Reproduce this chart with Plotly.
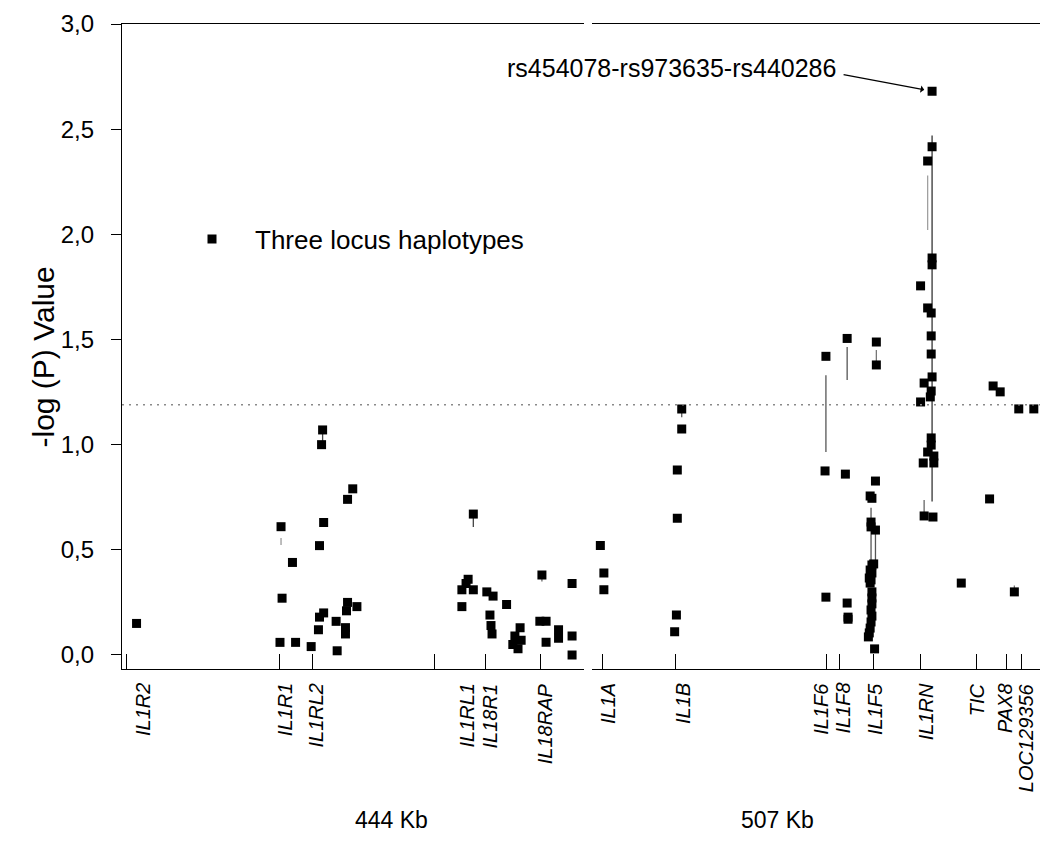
import plotly.graph_objects as go

# ---- Gene map: positions in kb within each of the two genomic segments ----
left_genes_kb = [4.8, 152, 183.1, 301.1, 349.9, 403.1]
right_genes_kb = [12.7, 94.4, 265.1, 280.6, 319.3, 372.1, 435.4, 468.6, 486.6]

left_label_names = ["IL1R2", "IL1R1", "IL1RL2", "IL1RL1", "IL18R1", "IL18RAP"]
left_label_kb = [19.7, 156.5, 185.7, 331, 354, 406.7]
right_label_names = ["IL1A", "IL1B", "IL1F6", "IL1F8", "IL1F5", "IL1RN", "TIC", "PAX8", "LOC129356"]
right_label_kb = [18.1, 102.9, 259.2, 283.2, 320.5, 377.8, 435.4, 467.5, 490.8]

segment_names = ["444 Kb", "507 Kb"]
segment_lengths = [444, 507]

# ---- Three locus haplotypes: -log(P) values ----
left_kb = [14, 152, 153, 154, 164, 167, 182, 189, 190, 190, 192, 193, 194, 194,
           206, 207, 215, 215, 216, 217, 217, 222, 226,
           338, 327, 331, 333, 338, 327, 351, 357, 354, 355, 356, 370, 383, 378,
           384, 376, 381, 404, 402, 408, 408, 420, 420, 433, 433, 433]
left_logp = [0.15, 0.06, 0.61, 0.27, 0.44, 0.06, 0.04, 0.12, 0.18, 0.52, 1.00, 1.07, 0.63, 0.20,
             0.16, 0.02, 0.13, 0.10, 0.21, 0.25, 0.74, 0.79, 0.23,
             0.67, 0.31, 0.34, 0.36, 0.31, 0.23, 0.30, 0.28, 0.19, 0.14, 0.10, 0.24, 0.13, 0.09,
             0.07, 0.05, 0.03, 0.38, 0.16, 0.16, 0.06, 0.12, 0.08, 0.34, 0.09, 0.00]

right_kb = [10, 14, 14,
            102, 102, 97, 97, 96, 94,
            265, 264, 265,
            289, 287, 289, 290, 290,
            322, 322, 321, 315, 317, 316, 316, 321, 319, 317, 315, 317, 314, 316, 315,
            317, 317, 317, 316, 317, 316, 315, 314, 313, 320,
            385, 385, 380, 385, 385, 372, 380, 384, 384, 384, 385, 376, 384, 383, 372,
            384, 384, 380, 387, 375, 387, 376, 386,
            418, 450, 454, 462, 478, 483, 500]
right_logp = [0.52, 0.39, 0.31,
              1.17, 1.075, 0.88, 0.65, 0.19, 0.11,
              1.42, 0.875, 0.275,
              1.505, 0.86, 0.247, 0.18, 0.17,
              1.488, 1.379, 0.827, 0.756, 0.745, 0.632, 0.609, 0.594, 0.433, 0.428, 0.404, 0.39, 0.366, 0.357, 0.342,
              0.30, 0.271, 0.243, 0.214, 0.185, 0.157, 0.128, 0.105, 0.086, 0.029,
              2.68, 2.416, 2.349, 1.888, 1.855, 1.755, 1.65, 1.626, 1.517, 1.431, 1.322, 1.293, 1.255, 1.227, 1.203,
              1.032, 0.998, 0.965, 0.946, 0.913, 0.913, 0.661, 0.656,
              0.342, 0.742, 1.279, 1.251, 0.30, 1.17, 1.17]

# ---- Vertical range segments (kb, low, high, colour) ----
left_seg_kb = [153, 193, 338, 404]
left_seg_lo = [0.523, 0.998, 0.609, 0.35]
left_seg_hi = [0.556, 1.075, 0.651, 0.376]
left_seg_col = ["#9a9a9a", "#444444", "#444444", "#666666"]

right_seg_kb = [102, 265, 289, 322, 316, 321, 316, 385, 380, 376, 478]
right_seg_lo = [1.13, 0.965, 1.308, 1.39, 0.433, 0.433, 0.632, 0.73, 2.02, 0.666, 0.30]
right_seg_hi = [1.17, 1.33, 1.464, 1.45, 0.594, 0.594, 0.70, 2.47, 2.28, 0.737, 0.33]
right_seg_col = ["#555555", "#555555", "#555555", "#777777", "#555555", "#555555", "#555555",
                 "#333333", "#a0a0a0", "#666666", "#777777"]

threshold = 1.19
peak_label = "rs454078-rs973635-rs440286"
peak_kb, peak_logp = 385, 2.68

FONT = "Liberation Sans, Arial, sans-serif"
W, H = 1043, 860
L, R, T, B = 122, 3, 24, 191
plot_w = W - L - R
plot_h = H - T - B
left_dom = [0, (583.5 - L) / plot_w]
right_dom = [(591.5 - L) / plot_w, 1]

fig = go.Figure()


def add_segments(xs, los, his, cols, xaxis):
    for x, lo, hi, c in zip(xs, los, his, cols):
        fig.add_trace(go.Scatter(x=[x, x], y=[lo, hi], mode="lines", xaxis=xaxis, yaxis="y",
                                 line=dict(color=c, width=1.3), showlegend=False, hoverinfo="skip"))


add_segments(left_seg_kb, left_seg_lo, left_seg_hi, left_seg_col, "x")
add_segments(right_seg_kb, right_seg_lo, right_seg_hi, right_seg_col, "x2")

marker = dict(symbol="square", size=9, color="black")
fig.add_trace(go.Scatter(x=left_kb, y=left_logp, mode="markers", marker=marker,
                         xaxis="x", yaxis="y", name="Three locus haplotypes", showlegend=True))
fig.add_trace(go.Scatter(x=right_kb, y=right_logp, mode="markers", marker=marker,
                         xaxis="x2", yaxis="y", showlegend=False))

# significance threshold across both segments
fig.add_shape(type="line", xref="paper", yref="y", x0=0, x1=1, y0=threshold, y1=threshold,
              line=dict(color="#8a8a8a", width=1.4, dash="2px,5px"))

xcommon = dict(showgrid=False, zeroline=False, showline=True, mirror=True, linecolor="black",
               linewidth=1.2, ticks="inside", ticklen=15, tickwidth=1.3, tickcolor="black",
               showticklabels=False)
fig.update_layout(
    width=W, height=H, margin=dict(l=L, r=R, t=T, b=B),
    paper_bgcolor="white", plot_bgcolor="white",
    font=dict(family=FONT, color="black"),
    separators=", ",
    xaxis=dict(domain=left_dom, range=[0, segment_lengths[0]], tickvals=left_genes_kb, anchor="y", **xcommon),
    xaxis2=dict(domain=right_dom, range=[0, segment_lengths[1]], tickvals=right_genes_kb, anchor="y", **xcommon),
    yaxis=dict(range=[-0.0666, 3.0], tickvals=[0, 0.5, 1.0, 1.5, 2.0, 2.5, 3.0], tickformat=".1f",
               showgrid=False, zeroline=False, showline=True, linecolor="black", linewidth=1.2,
               ticks="outside", ticklen=10, tickwidth=1.2, tickcolor="black",
               tickfont=dict(size=24, family=FONT), ticklabelstandoff=12),
    legend=dict(x=(169 - L) / plot_w, y=(669 - 239) / plot_h, xanchor="left", yanchor="middle",
                itemwidth=76, font=dict(size=26, family=FONT), bgcolor="rgba(0,0,0,0)"),
    showlegend=True,
)

ann = []
lab_y = (669 - 681) / plot_h
for name, kb in zip(left_label_names, left_label_kb):
    ann.append(dict(x=kb, xref="x", y=lab_y, yref="paper", text=f"<i>{name}</i>", textangle=-90,
                    showarrow=False, xanchor="center", yanchor="top", font=dict(size=20, family=FONT)))
for name, kb in zip(right_label_names, right_label_kb):
    ann.append(dict(x=kb, xref="x2", y=lab_y, yref="paper", text=f"<i>{name}</i>", textangle=-90,
                    showarrow=False, xanchor="center", yanchor="top", font=dict(size=20, family=FONT)))

seg_y = (669 - 835) / plot_h
ann.append(dict(x=sum(left_dom) / 2, xref="paper", y=seg_y, yref="paper", text=segment_names[0],
                showarrow=False, font=dict(size=23, family=FONT)))
ann.append(dict(x=sum(right_dom) / 2, xref="paper", y=seg_y, yref="paper", text=segment_names[1],
                showarrow=False, font=dict(size=23, family=FONT)))

ann.append(dict(x=(24 - L) / plot_w, xref="paper", y=(669 - 357) / plot_h, yref="paper",
                text="-log (P) Value", textangle=-90, showarrow=False,
                font=dict(size=30, family=FONT)))

# arrow to the most significant haplotype
ann.append(dict(x=peak_kb, xref="x2", y=peak_logp, yref="y", text="", showarrow=True,
                ax=-90, ay=-17, arrowhead=1, arrowsize=1, arrowwidth=1.2, arrowcolor="black",
                standoff=8))
ann.append(dict(x=peak_kb, xref="x2", y=peak_logp, yref="y", text=peak_label, showarrow=False,
                xanchor="right", yanchor="middle", xshift=-94, yshift=23,
                font=dict(size=25, family=FONT)))
fig.update_layout(annotations=ann)

fig.write_html("out.html")
